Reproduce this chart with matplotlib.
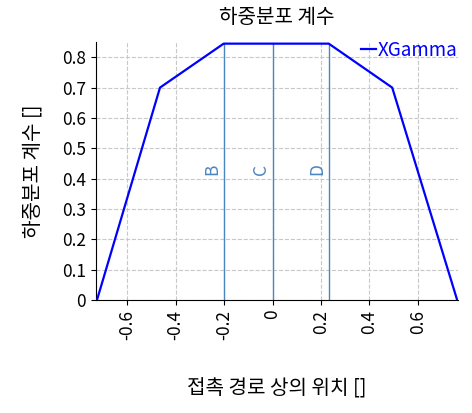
import matplotlib
matplotlib.use('Agg')
import matplotlib.pyplot as plt

plt.rcParams['font.family'] = ['Noto Sans CJK KR', 'DejaVu Sans']

# contact path position vs load sharing factor
pos = [-0.725, -0.465, -0.202, 0.232, 0.494, 0.762]
xgamma = [0.0, 0.70, 0.845, 0.845, 0.70, 0.0]

markers = ['B', 'C', 'D']
marker_pos = [-0.202, 0.0, 0.232]
xticks = [-0.6, -0.4, -0.2, 0, 0.2, 0.4, 0.6]
xtick_labels = ['-0.6', '-0.4', '-0.2', '0', '0.2', '0.4', '0.6']
yticks = [0, 0.1, 0.2, 0.3, 0.4, 0.5, 0.6, 0.7, 0.8]
ytick_labels = ['0', '0.1', '0.2', '0.3', '0.4', '0.5', '0.6', '0.7', '0.8']

fig = plt.figure(figsize=(4.72, 4.13), dpi=100)
ax = fig.add_axes([0.203, 0.274, 0.767, 0.624])

ax.plot(pos, xgamma, color='blue', lw=1.6, label='XGamma', zorder=3)

top = max(xgamma)
for name, xp in zip(markers, marker_pos):
    ax.plot([xp, xp], [0, top], color='#4a86c0', lw=1.0, zorder=2)
    ax.text(xp - 0.01, 0.43, name, rotation=90, color='#4a86c0',
            fontsize=12.5, ha='right', va='center')

ax.set_xlim(-0.73, 0.765)
ax.set_ylim(0, 0.85)
ax.set_xticks(xticks)
ax.set_xticklabels(xtick_labels, rotation=90, fontsize=12.5)
ax.set_yticks(yticks)
ax.set_yticklabels(ytick_labels, fontsize=12.5)
ax.grid(True, ls='--', color='#c8c8c8', lw=0.8)
ax.set_axisbelow(True)
for s in ['top', 'right']:
    ax.spines[s].set_visible(False)

ax.set_title('하중분포 계수', fontsize=14.5, pad=14)
ax.set_xlabel('접촉 경로 상의 위치 []', fontsize=14.5, labelpad=28)
ax.set_ylabel('하중분포 계수 []', fontsize=14.5, labelpad=13)

leg = ax.legend(loc='upper right', bbox_to_anchor=(1.045, 1.075), frameon=False,
                handlelength=0.8, handletextpad=0.1, fontsize=13.5)
for t in leg.get_texts():
    t.set_color('blue')

fig.savefig('out.png', dpi=100)
